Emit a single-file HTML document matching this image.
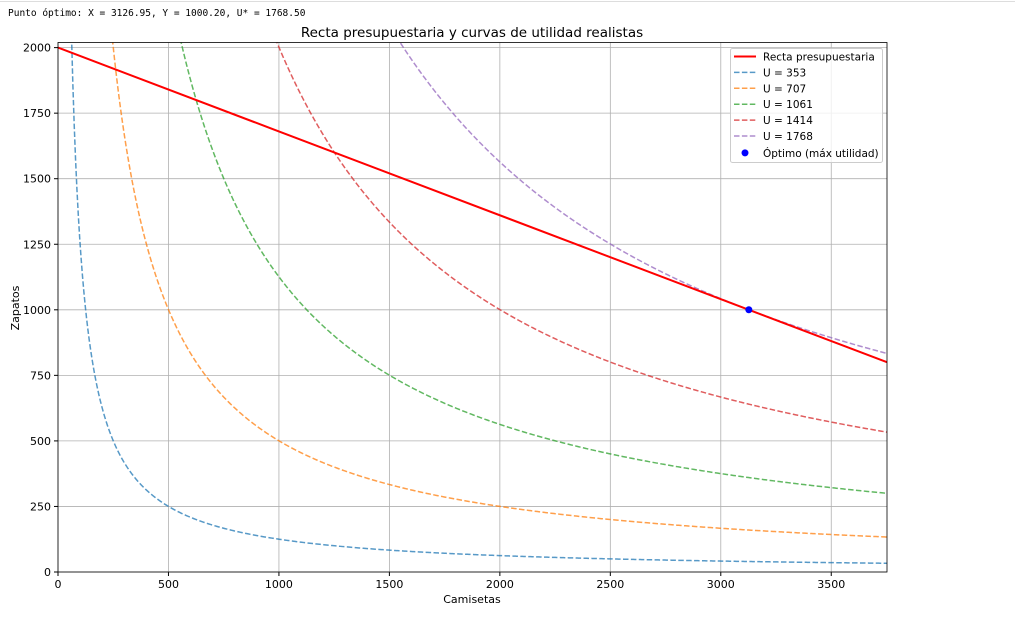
<!DOCTYPE html>
<html><head><meta charset="utf-8"><style>
body{margin:0;background:#fff;width:1015px;height:624px;overflow:hidden}
text{font-family:"DejaVu Sans","Liberation Sans",sans-serif;fill:#000}
</style></head><body>
<svg id="s" width="1015" height="624" xmlns="http://www.w3.org/2000/svg">
<line x1="0" y1="1.5" x2="1015" y2="1.5" stroke="#ddd"/>
<text x="8" y="16" style="font-family:'DejaVu Sans Mono','Liberation Mono',monospace;font-size:9.5px">Punto óptimo: X = 3126.95, Y = 1000.20, U* = 1768.50</text>
<text x="472" y="37" text-anchor="middle" font-size="13.5">Recta presupuestaria y curvas de utilidad realistas</text>
<text x="472" y="603" text-anchor="middle" font-size="11">Camisetas</text>
<text x="19" y="308" text-anchor="middle" font-size="11" transform="rotate(-90 19 308)">Zapatos</text>
<g id="g"></g>
</svg>
<script>
var L=58,R=887,T=42.5,B=572,XM=3752.34,YM=2019.5;
function px(x){return L+(R-L)*x/XM}function py(y){return B-(B-T)*y/YM}
var h='';
h+='<defs><clipPath id="c"><rect x="'+L+'" y="'+T+'" width="'+(R-L)+'" height="'+(B-T)+'"/></clipPath></defs>';
for(var x=0;x<=3500;x+=500){var X=px(x);h+='<line x1="'+X+'" y1="'+T+'" x2="'+X+'" y2="'+B+'" stroke="#b0b0b0" stroke-width="0.8"/><line x1="'+X+'" y1="'+B+'" x2="'+X+'" y2="'+(B+4)+'" stroke="#000"/><text x="'+X+'" y="'+(B+16)+'" text-anchor="middle" font-size="11">'+x+'</text>';}
for(var y=0;y<=2000;y+=250){var Y=py(y);h+='<line x1="'+L+'" y1="'+Y+'" x2="'+R+'" y2="'+Y+'" stroke="#b0b0b0" stroke-width="0.8"/><line x1="'+(L-4)+'" y1="'+Y+'" x2="'+L+'" y2="'+Y+'" stroke="#000"/><text x="'+(L-7)+'" y="'+(Y+4)+'" text-anchor="end" font-size="11">'+y+'</text>';}
var cols=['#1f77b4','#ff7f0e','#2ca02c','#d62728','#9467bd'],U=1768.5;
h+='<g clip-path="url(#c)">';
for(var k=1;k<=5;k++){var u=U*k/5,c=u*u,d='';for(var i=0;i<=600;i++){var x=30+i*(XM-30)/600,y=c/x;d+=(i?'L':'M')+px(x).toFixed(2)+' '+py(Math.min(y,3000)).toFixed(2);}
h+='<path d="'+d+'" fill="none" stroke="'+cols[k-1]+'" stroke-opacity="0.75" stroke-width="1.5" stroke-dasharray="5.5,2.4"/>';}
h+='<line x1="'+px(0)+'" y1="'+py(2000)+'" x2="'+px(XM)+'" y2="'+py(2000-XM*0.31975)+'" stroke="#ff0000" stroke-width="2"/>';
h+='<circle cx="'+px(3126.95)+'" cy="'+py(1000.2)+'" r="3.5" fill="#0000ff"/></g>';
h+='<rect x="'+L+'" y="'+T+'" width="'+(R-L)+'" height="'+(B-T)+'" fill="none" stroke="#000" stroke-width="0.8"/>';
h+='<rect x="730.5" y="48.5" width="152" height="114" rx="2" fill="#fff" fill-opacity="0.8" stroke="#ccc"/>';
var labs=['Recta presupuestaria','U = 353','U = 707','U = 1061','U = 1414','U = 1768','Óptimo (máx utilidad)'];
for(var i=0;i<7;i++){var Y=56.5+i*15.9+(i==6?1:0);
if(i==0)h+='<line x1="734" y1="'+Y+'" x2="756" y2="'+Y+'" stroke="#f00" stroke-width="2"/>';
else if(i<6)h+='<line x1="734" y1="'+Y+'" x2="756" y2="'+Y+'" stroke="'+cols[i-1]+'" stroke-opacity="0.75" stroke-width="1.5" stroke-dasharray="5.5,2.4"/>';
else h+='<circle cx="745" cy="'+Y+'" r="3.5" fill="#00f"/>';
h+='<text x="763" y="'+(Y+4)+'" font-size="10.5">'+labs[i]+'</text>';}
document.getElementById('g').innerHTML=h;
</script>
</body></html>
